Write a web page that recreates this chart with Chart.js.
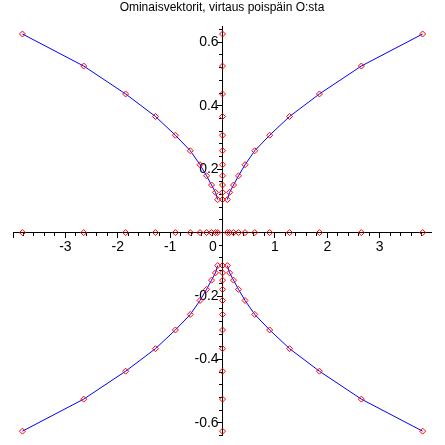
<!DOCTYPE html>
<html>
<head>
<meta charset="utf-8">
<script src="https://cdn.jsdelivr.net/npm/chart.js@4"></script>
<style>
  body { margin: 0; background: #fff; }
  #canvasContainer { width: 445px; height: 445px; }
</style>
</head>
<body>
<div id="canvasContainer"><canvas id="Grafica" width="445" height="445"></canvas></div>
<script>
// arvot luettu kuvasta (oikea ylähaara, x kasvaa)
const xVals = [0.092, 0.135, 0.21, 0.305, 0.43, 0.615, 0.90, 1.28, 1.85, 2.65, 3.82];
const yVals = [0.104, 0.127, 0.150, 0.179, 0.214, 0.258, 0.307, 0.366, 0.437, 0.525, 0.626];
const xTickLabels = [-3, -2, -1, 0, 1, 2, 3];
const yTickLabels = [-0.6, -0.4, -0.2, 0.2, 0.4, 0.6];
const titleText = 'Ominaisvektorit, virtaus poispäin O:sta';

const xMin = -4.0, xMax = 3.98;
const yMin = -0.64, yMax = 0.65;

function branch(sx, sy){
    let pts = [];
    for (let i=0; i<xVals.length; i++){
        pts.push({'x': sx*xVals[i], 'y': sy*yVals[i]});
    }
    return pts;
}

function axisPoints(){
    let pts = [];
    for (let i=0; i<xVals.length; i++){
        pts.push({'x': xVals[i], 'y': 0});
        pts.push({'x': -xVals[i], 'y': 0});
    }
    for (let i=0; i<yVals.length; i++){
        pts.push({'x': 0, 'y': yVals[i]});
        pts.push({'x': 0, 'y': -yVals[i]});
    }
    return pts;
}

function curveSet(data){
    return {
        'data': data,
        'borderColor': '#0000ff',
        'borderWidth': 1,
        'showLine': true,
        'pointStyle': 'rectRot',
        'pointRadius': 3,
        'pointBorderColor': '#ff0000',
        'pointBackgroundColor': 'rgba(0,0,0,0)',
        'pointBorderWidth': 1
    };
}

function isLabel(list, v){
    return list.some(t => Math.abs(t - v) < 1e-6);
}

const font = {'family': 'Liberation Sans, Arial, sans-serif', 'size': 14};

let config = {
    'type': 'scatter',
    'data': {
        'datasets': [
            curveSet(branch(1, 1)),
            curveSet(branch(-1, 1)),
            curveSet(branch(1, -1)),
            curveSet(branch(-1, -1)),
            {
                'data': axisPoints(),
                'showLine': false,
                'pointStyle': 'rectRot',
                'pointRadius': 3,
                'pointBorderColor': '#ff0000',
                'pointBackgroundColor': 'rgba(0,0,0,0)',
                'pointBorderWidth': 1
            }
        ]
    },
    'options': {
        'responsive': false,
        'animation': false,
        'clip': false,
        'layout': {'padding': {'left': 13, 'right': 14, 'top': 0, 'bottom': 5}},
        'plugins': {
            'legend': {'display': false},
            'tooltip': {'enabled': false},
            'title': {
                'display': true,
                'text': titleText,
                'color': '#000',
                'font': {'family': 'Liberation Sans, Arial, sans-serif', 'size': 12, 'weight': 'normal'},
                'padding': {'top': 0, 'bottom': 12}
            }
        },
        'scales': {
            // pienet väliviivat
            'x': {
                'type': 'linear', 'min': xMin, 'max': xMax,
                'position': {'y': 0},
                'grid': {'drawOnChartArea': false, 'tickLength': 3, 'tickColor': '#000'},
                'border': {'color': '#000', 'width': 1},
                'ticks': {'stepSize': 0.2, 'includeBounds': false, 'autoSkip': false, 'display': false}
            },
            'y': {
                'type': 'linear', 'min': yMin, 'max': yMax,
                'position': {'x': 0},
                'grid': {'drawOnChartArea': false, 'tickLength': 3, 'tickColor': '#000'},
                'border': {'color': '#000', 'width': 1},
                'ticks': {'stepSize': 0.04, 'includeBounds': false, 'autoSkip': false, 'display': false}
            },
            // isot väliviivat ja numerot
            'x2': {
                'type': 'linear', 'axis': 'x', 'min': xMin, 'max': xMax,
                'position': {'y': 0},
                'grid': {'drawOnChartArea': false, 'tickLength': 5, 'tickColor': '#000'},
                'border': {'color': '#000', 'width': 1},
                'ticks': {
                    'stepSize': 1, 'includeBounds': false, 'autoSkip': false,
                    'color': '#000', 'font': font, 'padding': 1, 'maxRotation': 0,
                    'callback': function(v){
                        if (!isLabel(xTickLabels, v)) {return '';}
                        if (Math.abs(v) < 1e-6) {return '0     ';}
                        return String(Math.round(v));
                    }
                }
            },
            'y2': {
                'type': 'linear', 'axis': 'y', 'min': yMin, 'max': yMax,
                'position': {'x': 0},
                'grid': {'drawOnChartArea': false, 'tickLength': 5, 'tickColor': '#000'},
                'border': {'color': '#000', 'width': 1},
                'ticks': {
                    'stepSize': 0.2, 'includeBounds': false, 'autoSkip': false,
                    'color': '#000', 'font': font, 'padding': 1,
                    'callback': function(v){
                        if (!isLabel(yTickLabels, v)) {return '';}
                        // välilyönti siirtää tekstiä irti väliviivasta
                        return v.toFixed(1) + ' ';
                    }
                }
            }
        }
    }
};

let ctx = document.getElementById('Grafica').getContext('2d');
new Chart(ctx, config);
</script>
</body>
</html>
